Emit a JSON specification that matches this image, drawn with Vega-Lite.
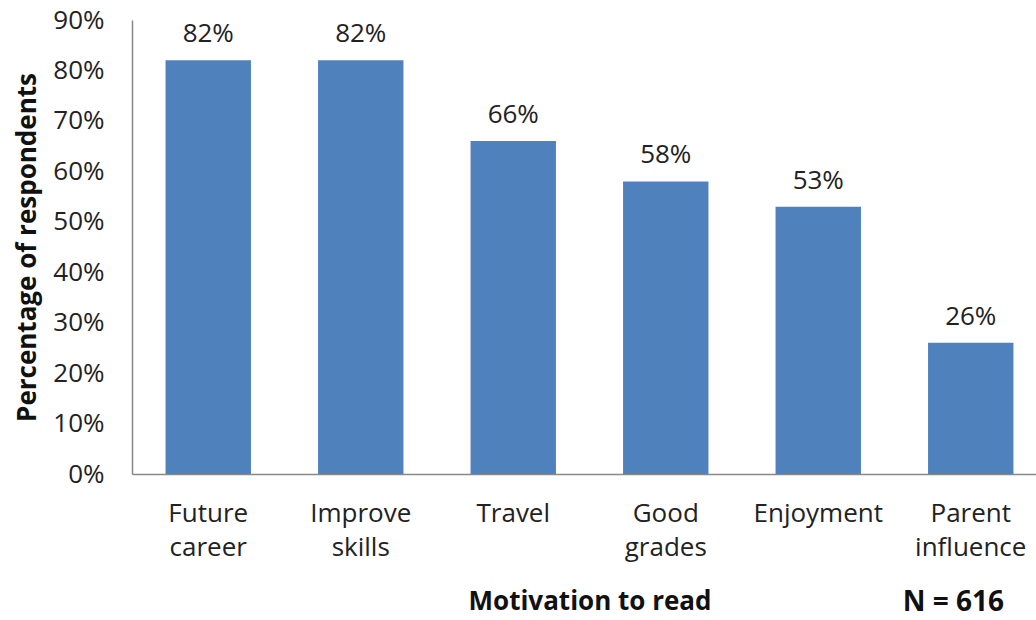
{
  "$schema": "https://vega.github.io/schema/vega-lite/v6.json",
  "autosize": {"type": "none"},
  "padding": {"left": 132, "top": 20, "right": 0, "bottom": 146},
  "width": 915,
  "height": 454,
  "background": "white",
  "config": {
    "font": "Open Sans",
    "view": {"stroke": null},
    "text": {"font": "Open Sans"}
  },
  "title": {
    "text": "N = 616",
    "orient": "bottom",
    "anchor": "end",
    "font": "Open Sans",
    "fontSize": 28,
    "fontWeight": "bold",
    "color": "#111",
    "dx": -43,
    "offset": -25
  },
  "data": {
    "values": [
      {"motivation": "Future career", "pct": 0.82},
      {"motivation": "Improve skills", "pct": 0.82},
      {"motivation": "Travel", "pct": 0.66},
      {"motivation": "Good grades", "pct": 0.58},
      {"motivation": "Enjoyment", "pct": 0.53},
      {"motivation": "Parent influence", "pct": 0.26}
    ]
  },
  "encoding": {
    "x": {
      "field": "motivation",
      "type": "nominal",
      "sort": null,
      "scale": {"paddingInner": 0.44, "paddingOuter": 0.22},
      "axis": {
        "title": "Motivation to read",
        "titleFont": "Open Sans",
        "titleFontSize": 26,
        "titleFontWeight": "bold",
        "titleColor": "#111",
        "titlePadding": 28,
        "labelAngle": 0,
        "labelFont": "Open Sans",
        "labelFontSize": 26,
        "labelColor": "#222",
        "labelExpr": "split(datum.label, ' ')",
        "labelLineHeight": 34,
        "labelPadding": 26,
        "ticks": false,
        "domainColor": "#888",
        "domainWidth": 1.5
      }
    },
    "y": {
      "field": "pct",
      "type": "quantitative",
      "scale": {"domain": [0, 0.9], "nice": false},
      "axis": {
        "title": "Percentage of respondents",
        "titleFont": "Open Sans",
        "titleFontSize": 26,
        "titleFontWeight": "bold",
        "titleColor": "#111",
        "titlePadding": 12,
        "format": ".0%",
        "values": [0, 0.1, 0.2, 0.3, 0.4, 0.5, 0.6, 0.7, 0.8, 0.9],
        "labelFont": "Open Sans",
        "labelFontSize": 26,
        "labelColor": "#222",
        "labelPadding": 28,
        "ticks": false,
        "grid": false,
        "domainColor": "#888",
        "domainWidth": 1.5
      }
    }
  },
  "layer": [
    {"mark": {"type": "bar", "color": "#4F81BD"}},
    {
      "mark": {"type": "text", "baseline": "bottom", "dy": -13, "fontSize": 26, "color": "#222", "font": "Open Sans"},
      "encoding": {"text": {"field": "pct", "type": "quantitative", "format": ".0%"}}
    }
  ]
}
